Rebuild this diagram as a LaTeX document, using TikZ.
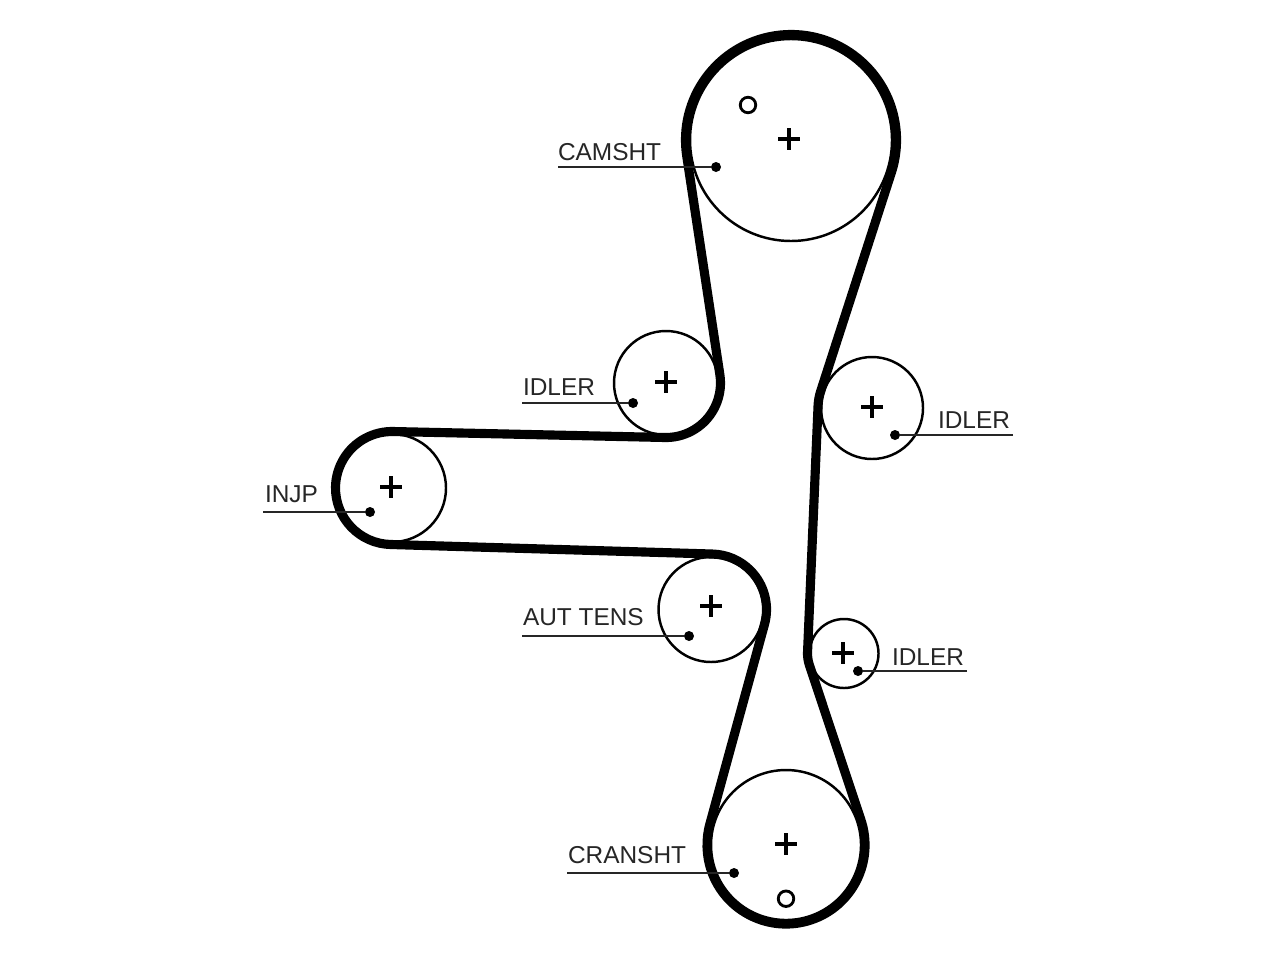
\documentclass[tikz,border=0pt]{standalone}
\usepackage{fontspec}
\setmainfont{Liberation Sans}
\usetikzlibrary{calc,%
                shapes.misc}

\tikzset{
  pulley/.style={draw,circle,line width=0.7pt,inner sep=0pt,outer sep=0pt},
  belt/.style={draw,line width=2.6pt,line join=round},
  centermark/.style={draw,cross out,rotate=45,line width=0.9pt,minimum size=0.155cm,inner sep=0pt,outer sep=0pt},
  hole/.style={draw,circle,line width=0.8pt,minimum size=0.155cm,inner sep=0pt,outer sep=0pt},
  dotmark/.style={fill,circle,minimum size=0.1cm,inner sep=0pt,outer sep=0pt},
  leader/.style={line width=0.6pt,draw=black!85},
  partlabel/.style={anchor=base west,inner sep=0pt,outer sep=0pt,text=black!85,font=\fontsize{6.95}{8}\selectfont}
}

\begin{document}
\begin{tikzpicture}
  \useasboundingbox (0,0) rectangle (12.8,9.6);

  \node[pulley,minimum size=2.02cm] (camsht) at (7.91,8.20) {};
  \node[pulley,minimum size=1.04cm] (idlera) at (6.66,5.77) {};
  \node[pulley,minimum size=1.02cm] (idlerb) at (8.72,5.52) {};
  \node[pulley,minimum size=0.69cm] (idlerc) at (8.44,3.065) {};
  \node[pulley,minimum size=1.08cm] (injp) at (3.92,4.72) {};
  \node[pulley,minimum size=1.05cm] (auttens) at (7.11,3.505) {};
  \node[pulley,minimum size=1.50cm] (cransht) at (7.86,1.15) {};

  % belt, clockwise from the camshaft
  \draw[belt] ($(camsht)+(189:1.055)$) arc[start angle=189,end angle=-18.2,radius=1.055]
    -- ($(idlerb)+(161.8:0.54)$) arc[start angle=161.8,end angle=177.56,radius=0.54]
    -- ($(idlerc)+(177.56:0.365)$) arc[start angle=177.56,end angle=198.8,radius=0.365]
    -- ($(cransht)+(18.8:0.79)$) arc[start angle=18.8,end angle=-195.7,radius=0.79]
    -- ($(auttens)+(-15.7:0.555)$) arc[start angle=-15.7,end angle=88.75,radius=0.555]
    -- ($(injp)+(-91.25:0.565)$) arc[start angle=-91.25,end angle=-271.79,radius=0.565]
    -- ($(idlera)+(-91.79:0.545)$) arc[start angle=-91.79,end angle=9,radius=0.545]
    -- cycle;

  \node[centermark] (pluscam) at (7.89,8.21) {};
  \node[centermark] (plusa) at (6.66,5.78) {};
  \node[centermark] (plusb) at (8.72,5.53) {};
  \node[centermark] (plusc) at (8.43,3.07) {};
  \node[centermark] (plusinj) at (3.91,4.73) {};
  \node[centermark] (plusaut) at (7.11,3.54) {};
  \node[centermark] (pluscran) at (7.86,1.16) {};

  \node[hole] (holecam) at (7.48,8.55) {};
  \node[hole] (holecran) at (7.86,0.613) {};

  \node[dotmark] (dotcam) at (7.16,7.93) {};
  \node[dotmark] (dota) at (6.33,5.57) {};
  \node[dotmark] (dotb) at (8.95,5.25) {};
  \node[dotmark] (dotc) at (8.58,2.89) {};
  \node[dotmark] (dotinj) at (3.70,4.48) {};
  \node[dotmark] (dotaut) at (6.89,3.24) {};
  \node[dotmark] (dotcran) at (7.34,0.87) {};

  \coordinate (endcam) at (5.58,7.93);
  \coordinate (enda) at (5.22,5.57);
  \coordinate (endb) at (10.13,5.25);
  \coordinate (endc) at (9.67,2.89);
  \coordinate (endinj) at (2.63,4.48);
  \coordinate (endaut) at (5.22,3.24);
  \coordinate (endcran) at (5.67,0.87);

  \draw[leader] (endcam) -- (dotcam);
  \draw[leader] (enda) -- (dota);
  \draw[leader] (endb) -- (dotb);
  \draw[leader] (endc) -- (dotc);
  \draw[leader] (endinj) -- (dotinj);
  \draw[leader] (endaut) -- (dotaut);
  \draw[leader] (endcran) -- (dotcran);

  \node[partlabel] (labcam) at (5.58,8.00) {CAMSHT};
  \node[partlabel] (laba) at (5.23,5.65) {IDLER};
  \node[partlabel] (labb) at (9.38,5.32) {IDLER};
  \node[partlabel] (labc) at (8.92,2.95) {IDLER};
  \node[partlabel] (labinj) at (2.65,4.58) {INJP};
  \node[partlabel] (labaut) at (5.23,3.35) {AUT TENS};
  \node[partlabel] (labcran) at (5.68,0.97) {CRANSHT};

\end{tikzpicture}
\end{document}
